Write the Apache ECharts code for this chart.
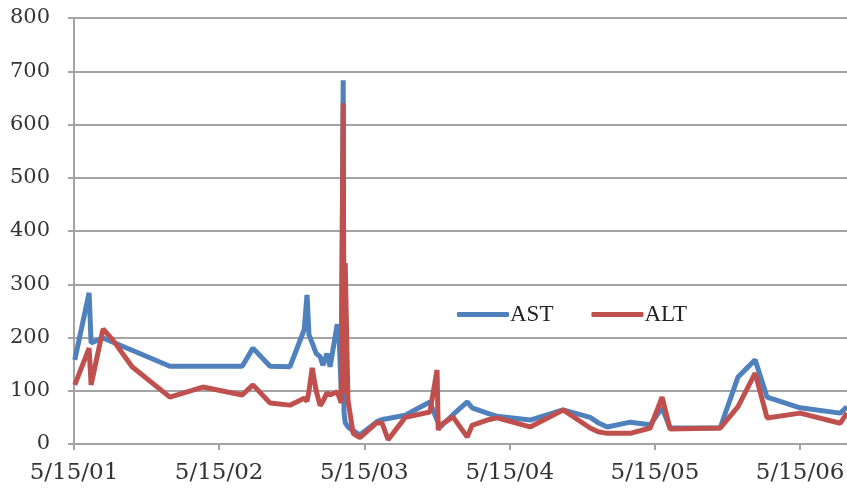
<!DOCTYPE html>
<html>
<head>
<meta charset="utf-8">
<script src="https://cdn.jsdelivr.net/npm/echarts@6/dist/echarts.min.js"></script>
<style>
  html, body { margin: 0; padding: 0; background: #fff; }
  #chart { width: 847px; height: 491px; }
</style>
</head>
<body>
<div id="chart"></div>
<script>
// sample dates
var dates = [
  '2001-05-17', '2001-06-22', '2001-06-27', '2001-07-27', '2001-08-21', '2001-10-08',
  '2002-01-11', '2002-04-04', '2002-07-12', '2002-08-08', '2002-09-20', '2002-11-09',
  '2002-12-15', '2002-12-22', '2002-12-27', '2003-01-04', '2003-01-14', '2003-01-24',
  '2003-01-31', '2003-02-10', '2003-02-18', '2003-03-08', '2003-03-13', '2003-03-18',
  '2003-03-23', '2003-03-25', '2003-03-28', '2003-04-04', '2003-04-17', '2003-05-04',
  '2003-06-16', '2003-06-29', '2003-07-14', '2003-08-26', '2003-10-27', '2003-11-14',
  '2003-11-17', '2003-11-22', '2003-12-24', '2004-01-29', '2004-02-10', '2004-03-19',
  '2004-04-13', '2004-07-05', '2004-09-26', '2004-12-03', '2004-12-23', '2005-01-15',
  '2005-03-14', '2005-05-03', '2005-06-02', '2005-06-22', '2005-10-26', '2005-12-10',
  '2006-01-22', '2006-02-21', '2006-05-15', '2006-08-24', '2006-09-10'
];
var ast = [
  158, 284, 190, 199, 191, 176,
  146, 146, 146, 180, 146, 145,
  215, 280, 205, 190, 170, 164,
  148, 170, 145, 225, 195, 100,
  683, 60, 40, 32, 25, 17,
  42, 46, 48, 54, 79, 45,
  40, 32, 55, 79, 68, 58,
  52, 45, 64, 50, 40, 32,
  41, 36, 68, 30, 30, 126,
  158, 88, 68, 58, 70
];
var alt = [
  111, 180, 111, 216, 195, 145,
  88, 107, 92, 111, 77, 73,
  86, 80, 100, 143, 100, 72,
  80, 96, 92, 98, 88, 77,
  640, 95, 340, 82, 20, 12,
  40, 39, 8, 50, 60, 139,
  26, 35, 51, 13, 35, 45,
  49, 32, 64, 30, 23, 20,
  20, 30, 88, 28, 30, 70,
  133, 49, 58, 39, 58
];
var xTickDates = ['2001-05-15', '2002-05-15', '2003-05-15', '2004-05-15', '2005-05-15', '2006-05-15'];
var xTickLabels = ['5/15/01', '5/15/02', '5/15/03', '5/15/04', '5/15/05', '5/15/06'];
var xMin = '2001-05-15';
var xMax = '2006-09-10';

function toTime(s) {
    return new Date(s + 'T00:00:00').getTime();
}

var tickTimes = xTickDates.map(toTime);

function pairs(vals) {
    var out = [];
    for (var i = 0; i < dates.length; i++) {
        out.push([toTime(dates[i]), vals[i]]);
    }
    return out;
}

var myChart = echarts.init(document.getElementById('chart'));

var gray = '#a3a3a3';

myChart.setOption({
    animation: false,
    backgroundColor: '#fff',
    grid: {
        left: 74,
        right: 0,
        top: 18,
        bottom: 47,
        containLabel: false,
        outerBoundsMode: 'none'
    },
    legend: {
        left: 452,
        top: 298,
        icon: 'roundRect',
        itemWidth: 52,
        itemHeight: 5,
        itemGap: 38,
        textStyle: {
            fontFamily: 'Liberation Serif',
            fontSize: 23,
            color: '#222',
            padding: [4, 0, 0, -4]
        },
        data: ['AST', 'ALT']
    },
    xAxis: {
        // plain value axis over timestamps so the yearly 5/15 ticks can be placed exactly
        type: 'value',
        min: toTime(xMin),
        max: toTime(xMax),
        axisLine: { show: true, onZero: false, lineStyle: { color: gray, width: 2 } },
        axisTick: {
            show: true,
            length: 6,
            customValues: tickTimes,
            lineStyle: { color: gray, width: 2 }
        },
        axisLabel: {
            customValues: tickTimes,
            margin: 18,
            fontFamily: 'DejaVu Serif',
            fontSize: 23,
            color: '#333',
            formatter: function (v) {
                for (var i = 0; i < tickTimes.length; i++) {
                    if (Math.abs(tickTimes[i] - v) < 86400000) return xTickLabels[i];
                }
                return '';
            }
        },
        splitLine: { show: false }
    },
    yAxis: {
        type: 'value',
        min: 0,
        max: 800,
        interval: 100,
        axisLine: { show: true, lineStyle: { color: gray, width: 2 } },
        axisTick: { show: true, length: 6, lineStyle: { color: gray, width: 2 } },
        axisLabel: {
            margin: 24,
            fontFamily: 'DejaVu Serif',
            fontSize: 21,
            color: '#333'
        },
        splitLine: { show: true, lineStyle: { color: gray, width: 2 } }
    },
    series: [
        {
            name: 'AST',
            type: 'line',
            symbol: 'none',
            color: '#4f81bd',
            lineStyle: { width: 5, color: '#4f81bd' },
            data: pairs(ast)
        },
        {
            name: 'ALT',
            type: 'line',
            symbol: 'none',
            color: '#c0504d',
            lineStyle: { width: 5, color: '#c0504d' },
            data: pairs(alt)
        }
    ]
});
</script>
</body>
</html>
